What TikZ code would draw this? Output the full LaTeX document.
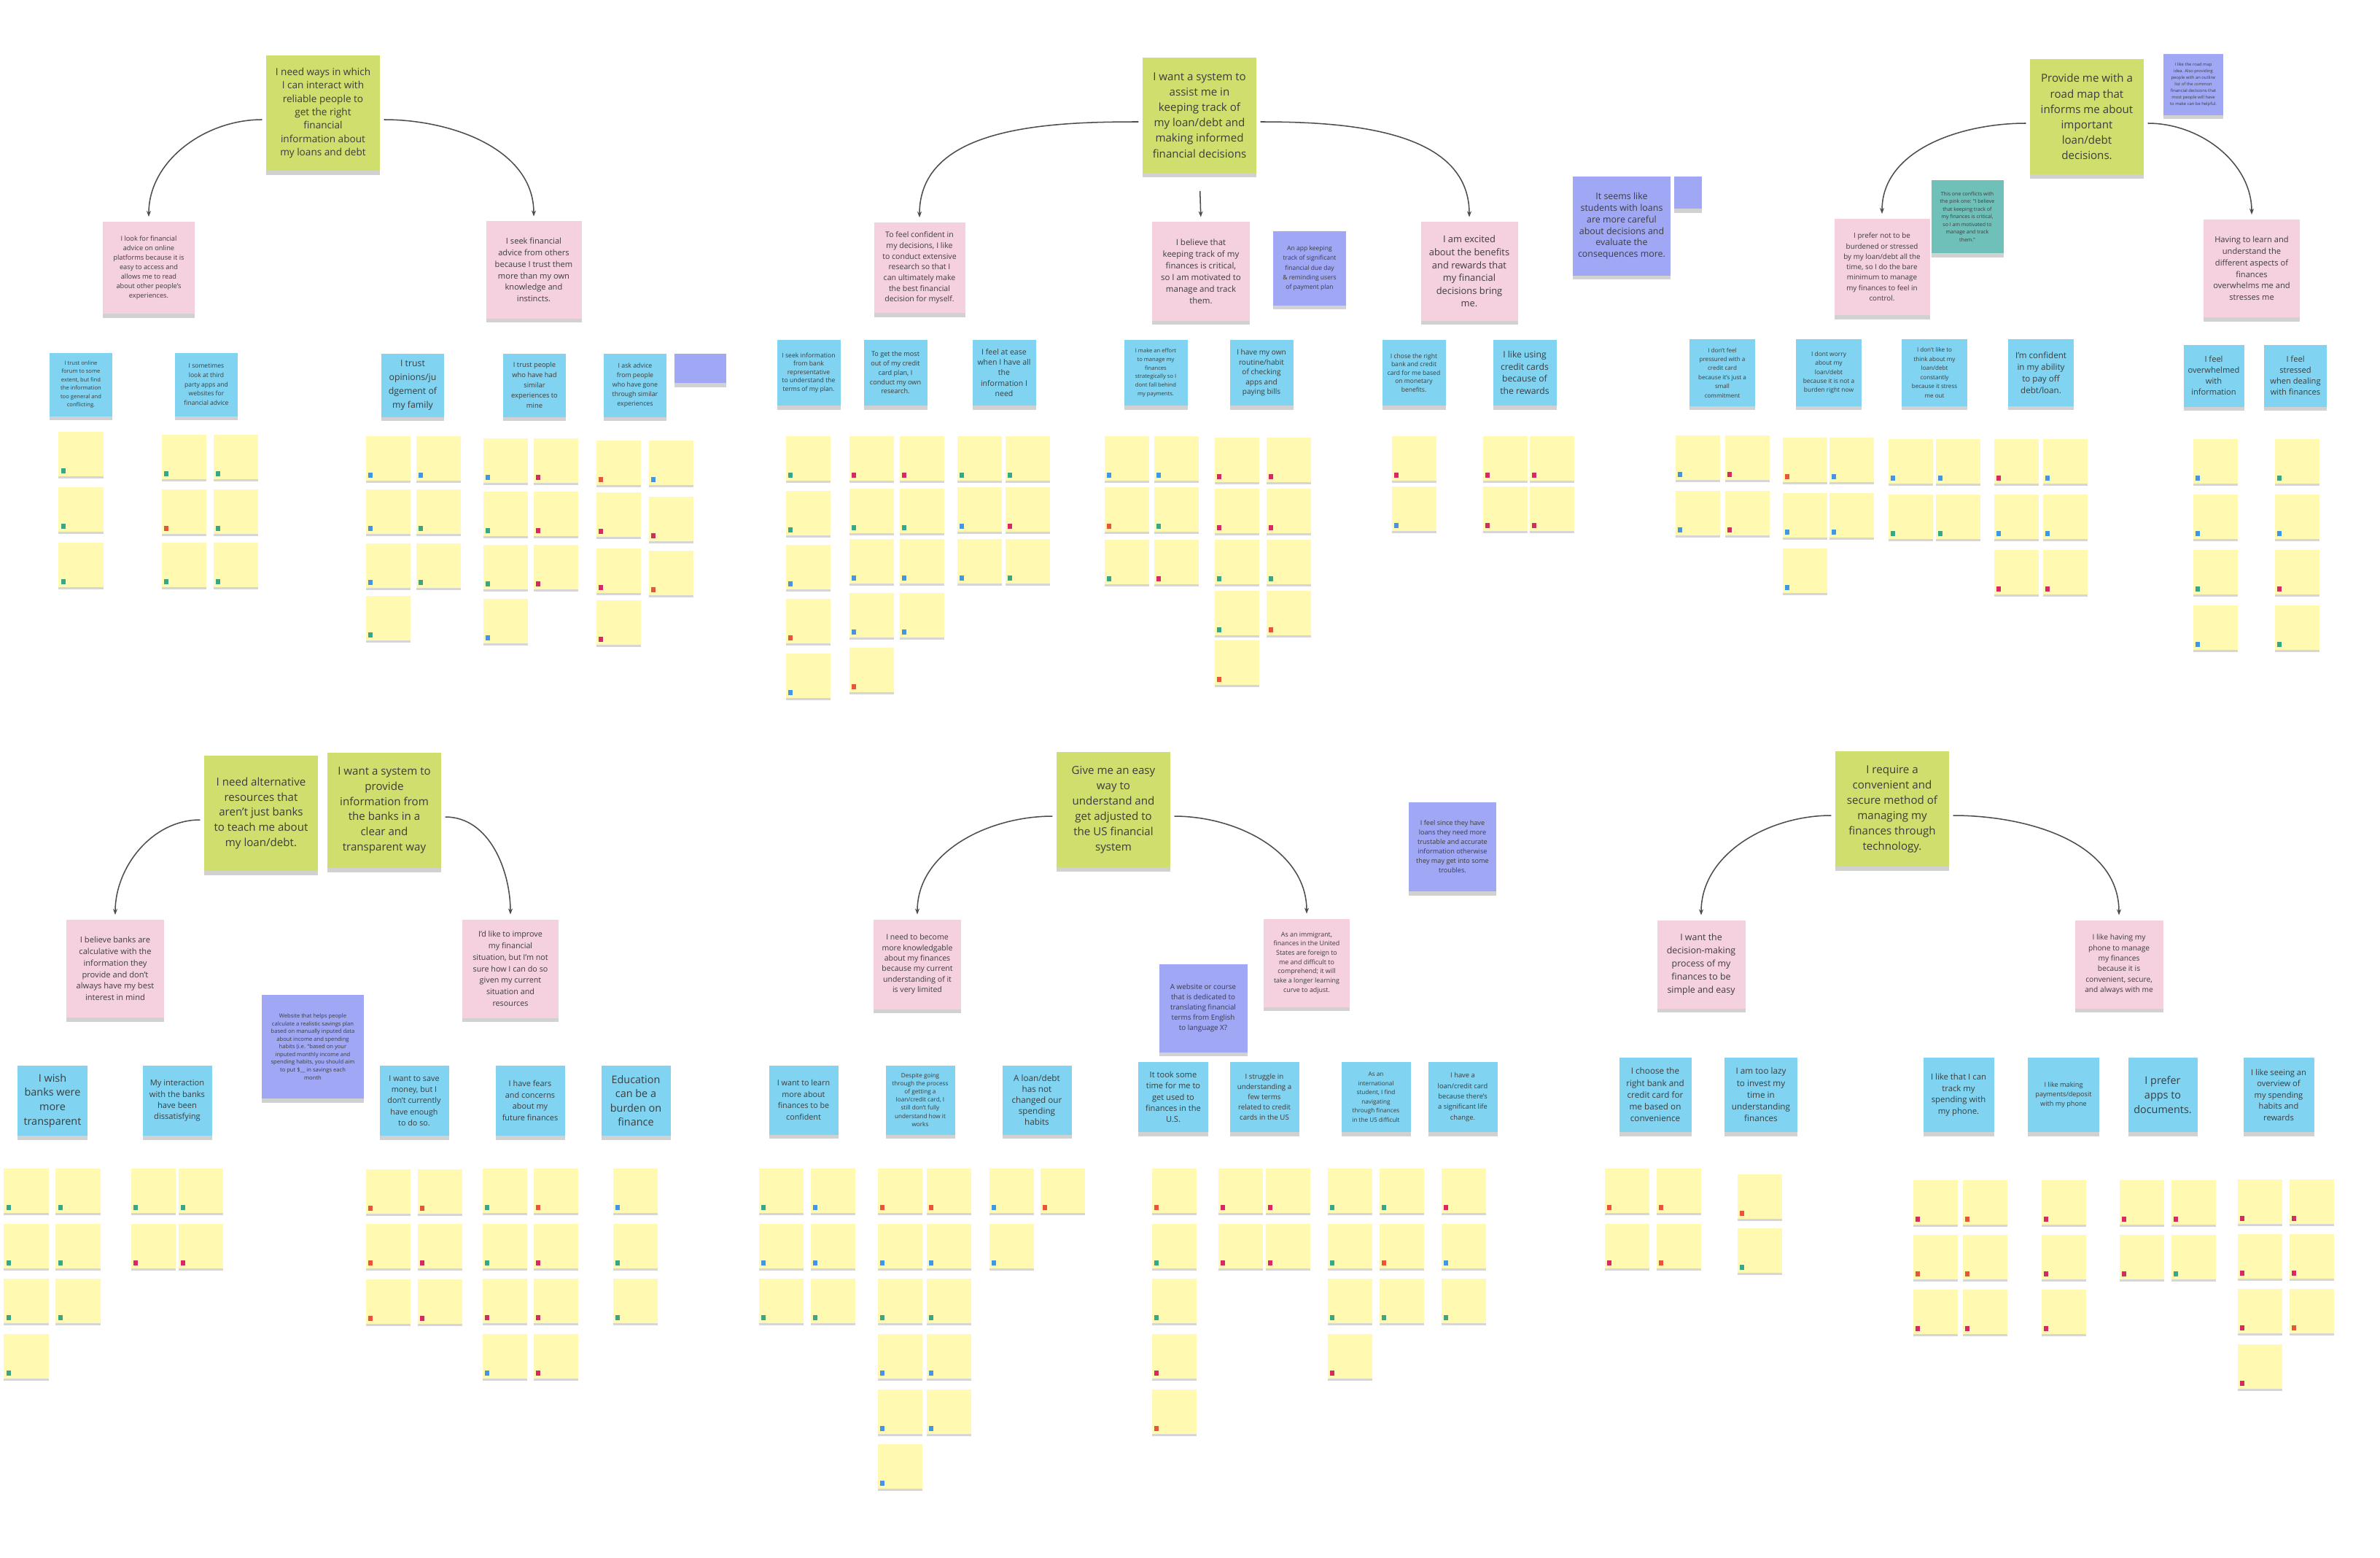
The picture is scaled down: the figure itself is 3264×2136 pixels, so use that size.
\documentclass[tikz,border=0pt]{standalone}
\usepackage{fontspec}
\setmainfont{Open Sans}
\usepackage{tikz}
\usetikzlibrary{arrows.meta,shadows}

\definecolor{needgreen}{RGB}{208,222,110}
\definecolor{insightpink}{RGB}{245,209,224}
\definecolor{quoteblue}{RGB}{128,212,242}
\definecolor{ideapurple}{RGB}{160,168,246}
\definecolor{remarkteal}{RGB}{112,192,186}
\definecolor{stickyyellow}{RGB}{255,249,178}
\definecolor{mg}{RGB}{58,166,136}
\definecolor{mr}{RGB}{232,86,58}
\definecolor{mb}{RGB}{66,150,228}
\definecolor{mm}{RGB}{214,42,102}
\definecolor{inkgray}{RGB}{60,60,60}

\begin{document}
\begin{tikzpicture}[
  x=0.03cm, y=-0.03cm,
  note/.style={inner sep=2pt, align=center, text=inkgray,
    drop shadow={fill=black, opacity=0.18, shadow xshift=0pt, shadow yshift=-5pt}},
  sz/.style 2 args={minimum width=#1cm, minimum height=#2cm},
  fs/.style 2 args={font=\fontsize{#1}{#2}\selectfont},
  theme/.style={note, fill=needgreen, sz={4.7}{4.72}},
  insight/.style={note, fill=insightpink},
  finding/.style={note, fill=quoteblue},
  idea/.style={note, fill=ideapurple},
  remark/.style={note, fill=remarkteal},
  sticky/.style={inner sep=0pt, fill=stickyyellow, minimum size=1.83cm,
    drop shadow={fill=black, opacity=0.16, shadow xshift=0pt, shadow yshift=-3pt}},
  arr/.style={-{Stealth[length=2.4mm, width=1.8mm]}, line width=1.3pt, draw=black!70,
    shorten <=0.15cm, shorten >=0.2cm}
]
\path[use as bounding box, fill=white] (0,0) rectangle (3264,2136);

% themes
\node[theme, fs={11.6}{15.7}] (gWays) at (443,155) {I need ways in which\\I can interact with\\reliable people to\\get the right\\financial\\information about\\my loans and debt};
\node[theme, fs={12.9}{18}] (gTrack) at (1645,158) {I want a system to\\assist me in\\keeping track of\\my loan/debt and\\making informed\\financial decisions};
\node[theme, fs={12.9}{18}] (gRoadmap) at (2862,160) {Provide me with a\\road map that\\informs me about\\important\\loan/debt\\decisions.};
\node[theme, fs={12.9}{17.6}] (gAltRes) at (358,1115) {I need alternative\\resources that\\aren't just banks\\to teach me about\\my loan/debt.};
\node[theme, fs={12.9}{17.7}] (gBankInfo) at (527,1111) {I want a system to\\provide\\information from\\the banks in a\\clear and\\transparent way};
\node[theme, fs={12.9}{18}] (gUSsys) at (1527,1110) {Give me an easy\\way to\\understand and\\get adjusted to\\the US financial\\system};
\node[theme, fs={12.9}{18}] (gTech) at (2595,1109) {I require a\\convenient and\\secure method of\\managing my\\finances through\\technology.};

% insights
\node[insight, sz={3.75}{3.78}, fs={7.9}{11}] (pOnline) at (204,367) {I look for financial\\advice on online\\platforms because it is\\easy to access and\\allows me to read\\about other people's\\experiences.};
\node[insight, sz={3.93}{3.99}, fs={9.5}{13.5}] (pOthers) at (732,370) {I seek financial\\advice from others\\because I trust them\\more than my own\\knowledge and\\instincts.};
\node[insight, sz={3.75}{3.72}, fs={9}{12.5}] (pResearch) at (1261,367) {To feel confident in\\my decisions, I like\\to conduct extensive\\research so that I\\can ultimately make\\the best financial\\decision for myself.};
\node[insight, sz={4.02}{4.05}, fs={9.8}{13.6}] (pTracking) at (1647,372) {I believe that\\keeping track of my\\finances is critical,\\so I am motivated to\\manage and track\\them.};
\node[insight, sz={3.99}{4.05}, fs={11}{15}] (pRewards) at (2015,372) {I am excited\\about the benefits\\and rewards that\\my financial\\decisions bring\\me.};
\node[insight, sz={3.93}{3.96}, fs={8.4}{12.2}] (pMinimum) at (2581,366) {I prefer not to be\\burdened or stressed\\by my loan/debt all the\\time, so I do the bare\\minimum to manage\\my finances to feel in\\control.};
\node[insight, sz={3.96}{4.02}, fs={9.5}{13.5}] (pOverwhelm) at (3088,368) {Having to learn and\\understand the\\different aspects of\\finances\\overwhelms me and\\stresses me};
\node[insight, sz={4.02}{4.02}, fs={9.5}{13.4}] (pBanks) at (158,1328) {I believe banks are\\calculative with the\\information they\\provide and don't\\always have my best\\interest in mind};
\node[insight, sz={3.96}{4.05}, fs={9.2}{13.5}] (pImprove) at (700,1328) {I'd like to improve\\my financial\\situation, but I'm not\\sure how I can do so\\given my current\\situation and\\resources};
\node[insight, sz={3.6}{3.69}, fs={9}{12.3}] (pKnowledge) at (1258,1322) {I need to become\\more knowledgable\\about my finances\\because my current\\understanding of it\\is very limited};
\node[insight, sz={3.54}{3.63}, fs={7.6}{10.8}] (pImmigrant) at (1792,1320) {As an immigrant,\\finances in the United\\States are foreign to\\me and difficult to\\comprehend; it will\\take a longer learning\\curve to adjust.};
\node[insight, sz={3.63}{3.63}, fs={10.6}{15.4}] (pSimple) at (2333,1322) {I want the\\decision-making\\process of my\\finances to be\\simple and easy};
\node[insight, sz={3.63}{3.63}, fs={8.7}{12.2}] (pPhone) at (2906,1322) {I like having my\\phone to manage\\my finances\\because it is\\convenient, secure,\\and always with me};

% ideas and remarks
\node[idea, sz={2.13}{1.2}] (iTiny) at (960,505) {};
\node[idea, sz={3}{3.03}, fs={7.3}{11.4}] (iAppDue) at (1796,368) {An app keeping\\track of significant\\financial due day\\\& reminding users\\of payment plan};
\node[idea, sz={4}{4.05}, fs={10.6}{13.4}] (iStudents) at (2224,310) {It seems like\\students with loans\\are more careful\\about decisions and\\evaluate the\\consequences more.};
\node[idea, sz={1.14}{1.32}] (iSquare) at (2315,264) {};
\node[idea, sz={2.46}{2.49}, fs={5}{7.6}] (iRoadmap) at (3008,116) {I like the road map\\idea. Also providing\\people with an outline\\list of the common\\financial decisions that\\most people will have\\to make can be helpful.};
\node[remark, sz={2.97}{3}, fs={6}{9}] (cConflict) at (2698,297) {This one conflicts with\\the pink one: ``I believe\\that keeping track of\\my finances is critical,\\so I am motivated to\\manage and track\\them.''};
\node[idea, sz={4.2}{4.26}, fs={6.5}{9}] (iSavings) at (429,1435) {Website that helps people\\calculate a realistic savings plan\\based on manually inputed data\\about income and spending\\habits (i.e. ``based on your\\inputed monthly income and\\spending habits, you should aim\\to put \$\_\_ in savings each\\month};
\node[idea, sz={3.6}{3.66}, fs={7.8}{11.1}] (iTrouble) at (1992,1161) {I feel since they have\\loans they need more\\trustable and accurate\\information otherwise\\they may get into some\\troubles.};
\node[idea, sz={3.63}{3.63}, fs={8.4}{12.1}] (iTranslate) at (1650,1382) {A website or course\\that is dedicated to\\translating financial\\terms from English\\to language X?};

% findings, top row
\node[finding, sz={2.58}{2.61}, fs={6.5}{9.7}] (bForum) at (111,527) {I trust online\\forum to some\\extent, but find\\the information\\too general and\\conflicting.};
\node[finding, sz={2.58}{2.61}, fs={7.3}{10.8}] (bThirdParty) at (283,527) {I sometimes\\look at third\\party apps and\\websites for\\financial advice};
\node[finding, sz={2.58}{2.61}, fs={10.5}{16}] (bFamily) at (566,528) {I trust\\opinions/ju\\dgement of\\my family};
\node[finding, sz={2.58}{2.61}, fs={8}{12}] (bSimilar) at (733,528) {I trust people\\who have had\\similar\\experiences to\\mine};
\node[finding, sz={2.58}{2.61}, fs={7.5}{11.2}] (bAsk) at (871,528) {I ask advice\\from people\\who have gone\\through similar\\experiences};
\node[finding, sz={2.61}{2.7}, fs={7.4}{9.8}] (bBankRep) at (1109,511) {I seek information\\from bank\\representative\\to understand the\\terms of my plan.};
\node[finding, sz={2.61}{2.7}, fs={7.8}{10.9}] (bOwnResearch) at (1228,511) {To get the most\\out of my credit\\card plan, I\\conduct my own\\research.};
\node[finding, sz={2.61}{2.7}, fs={9}{12.2}] (bAtEase) at (1377,511) {I feel at ease\\when I have all\\the\\information I\\need};
\node[finding, sz={2.61}{2.7}, fs={6.5}{10}] (bEffort) at (1585,511) {I make an effort\\to manage my\\finances\\strategically so I\\dont fall behind\\my payments.};
\node[finding, sz={2.61}{2.7}, fs={8.6}{11.5}] (bRoutine) at (1730,511) {I have my own\\routine/habit\\of checking\\apps and\\paying bills};
\node[finding, sz={2.61}{2.7}, fs={7.3}{9.8}] (bMonetary) at (1939,511) {I chose the right\\bank and credit\\card for me based\\on monetary\\benefits.};
\node[finding, sz={2.61}{2.7}, fs={10.4}{14.3}] (bRewards) at (2091,511) {I like using\\credit cards\\because of\\the rewards};
\node[finding, sz={2.7}{2.73}, fs={6.9}{10.6}] (bPressured) at (2362,511) {I don't feel\\pressured with a\\credit card\\because it's just a\\small\\commitment};
\node[finding, sz={2.7}{2.73}, fs={7.2}{10.5}] (bNoWorry) at (2508,511) {I dont worry\\about my\\loan/debt\\because it is not a\\burden right now};
\node[finding, sz={2.7}{2.73}, fs={6.9}{10.6}] (bNoThink) at (2653,511) {I don't like to\\think about my\\loan/debt\\constantly\\because it stress\\me out};
\node[finding, sz={2.7}{2.73}, fs={9.9}{13.5}] (bConfident) at (2799,511) {I'm confident\\in my ability\\to pay off\\debt/loan.};
\node[finding, sz={2.49}{2.55}, fs={9.5}{12.7}] (bOverwhelmed) at (3036,515) {I feel\\overwhelmed\\with\\information};
\node[finding, sz={2.58}{2.55}, fs={9.5}{12.7}] (bStressed) at (3148,515) {I feel\\stressed\\when dealing\\with finances};

% findings, bottom row
\node[finding, sz={2.85}{2.88}, fs={12.3}{16.7}] (bTransparent) at (72,1509) {I wish\\banks were\\more\\transparent};
\node[finding, sz={2.85}{2.88}, fs={9.5}{13.2}] (bDissatisfied) at (243,1509) {My interaction\\with the banks\\have been\\dissatisfying};
\node[finding, sz={2.85}{2.88}, fs={9.2}{13.1}] (bSave) at (568,1509) {I want to save\\money, but I\\don't currently\\have enough\\to do so.};
\node[finding, sz={2.85}{2.88}, fs={9.3}{13.2}] (bFears) at (727,1509) {I have fears\\and concerns\\about my\\future finances};
\node[finding, sz={2.85}{2.88}, fs={12.3}{16.5}] (bEducation) at (872,1509) {Education\\can be a\\burden on\\finance};
\node[finding, sz={2.85}{2.85}, fs={9.2}{13.2}] (bLearnMore) at (1102,1508) {I want to learn\\more about\\finances to be\\confident};
\node[finding, sz={2.85}{2.85}, fs={7}{9.4}] (bDespite) at (1262,1508) {Despite going\\through the process\\of getting a\\loan/credit card, I\\still don't fully\\understand how it\\works};
\node[finding, sz={2.85}{2.85}, fs={10}{12.9}] (bHabits) at (1422,1508) {A loan/debt\\has not\\changed our\\spending\\habits};
\node[finding, sz={2.88}{2.88}, fs={9.5}{13.1}] (bTookTime) at (1609,1504) {It took some\\time for me to\\get used to\\finances in the\\U.S.};
\node[finding, sz={2.85}{2.88}, fs={8.3}{12}] (bTerms) at (1734,1504) {I struggle in\\understanding a\\few terms\\related to credit\\cards in the US};
\node[finding, sz={2.85}{2.88}, fs={7}{10.7}] (bIntl) at (1887,1504) {As an\\international\\student, I find\\navigating\\through finances\\in the US difficult};
\node[finding, sz={2.85}{2.88}, fs={8}{12.2}] (bLifeChange) at (2006,1504) {I have a\\loan/credit card\\because there's\\a significant life\\change.};
\node[finding, sz={2.97}{3.06}, fs={10}{13.9}] (bConvenience) at (2270,1501) {I choose the\\right bank and\\credit card for\\me based on\\convenience};
\node[finding, sz={3}{3.06}, fs={10}{13.9}] (bLazy) at (2415,1501) {I am too lazy\\to invest my\\time in\\understanding\\finances};
\node[finding, sz={2.91}{3.06}, fs={9.7}{13.2}] (bTrackPhone) at (2686,1501) {I like that I can\\track my\\spending with\\my phone.};
\node[finding, sz={2.94}{3.06}, fs={7.8}{11.4}] (bPayPhone) at (2830,1501) {I like making\\payments/deposit\\with my phone};
\node[finding, sz={2.85}{3.06}, fs={12.3}{16.8}] (bApps) at (2966,1501) {I prefer\\apps to\\documents.};
\node[finding, sz={2.91}{3.06}, fs={9.5}{13.2}] (bOverview) at (3125,1501) {I like seeing an\\overview of\\my spending\\habits and\\rewards};

% interview stickies
\foreach \x/\y/\c in {111/622/mg, 111/698/mg, 111/774/mg,
  252/626/mg, 252/701/mr, 252/774/mg, 323/626/mg, 323/701/mg, 323/774/mg,
  532/628/mb, 532/701/mb, 532/775/mb, 532/847/mg, 601/628/mb, 601/701/mg, 601/775/mg,
  693/631/mb, 693/704/mg, 693/777/mg, 693/851/mb, 762/631/mm, 762/704/mm, 762/777/mm,
  848/634/mr, 848/705/mm, 848/782/mm, 848/853/mm, 920/634/mb, 920/711/mm, 920/785/mr,
  1108/628/mg, 1108/703/mg, 1108/777/mb, 1108/851/mr, 1108/926/mb,
  1195/628/mm, 1195/700/mg, 1195/769/mb, 1195/843/mb, 1195/918/mr,
  1264/628/mm, 1264/700/mg, 1264/769/mb, 1264/843/mb,
  1343/628/mg, 1343/698/mb, 1343/769/mb, 1409/628/mg, 1409/698/mm, 1409/769/mg,
  1545/628/mb, 1545/698/mr, 1545/770/mg, 1613/628/mb, 1613/698/mg, 1613/770/mm,
  1696/630/mm, 1696/700/mm, 1696/770/mg, 1696/840/mg, 1696/908/mr,
  1767/630/mm, 1767/700/mm, 1767/770/mg, 1767/840/mr,
  1939/628/mm, 1939/697/mb, 2064/628/mm, 2064/697/mm, 2128/628/mm, 2128/697/mm,
  2328/627/mb, 2328/703/mb, 2396/627/mm, 2396/703/mm,
  2475/630/mr, 2475/706/mb, 2475/782/mb, 2539/630/mb, 2539/706/mb,
  2620/632/mb, 2620/708/mg, 2685/632/mb, 2685/708/mg,
  2765/632/mm, 2765/708/mb, 2765/784/mm, 2832/632/mb, 2832/708/mb, 2832/784/mm,
  3038/632/mb, 3038/708/mb, 3038/784/mg, 3038/860/mb,
  3150/632/mg, 3150/708/mb, 3150/784/mm, 3150/860/mg,
  36/1632/mg, 36/1708/mg, 36/1783/mg, 36/1859/mg, 107/1632/mg, 107/1708/mg, 107/1783/mg,
  210/1632/mg, 210/1708/mm, 275/1632/mg, 275/1708/mm,
  532/1633/mr, 532/1708/mr, 532/1784/mr, 603/1633/mr, 603/1708/mm, 603/1784/mm,
  692/1632/mg, 692/1708/mg, 692/1783/mm, 692/1859/mb,
  762/1632/mr, 762/1708/mm, 762/1783/mm, 762/1859/mm,
  871/1632/mb, 871/1708/mg, 871/1783/mg,
  1071/1632/mg, 1071/1708/mb, 1071/1783/mg, 1142/1632/mb, 1142/1708/mb, 1142/1783/mg,
  1234/1632/mr, 1234/1708/mb, 1234/1783/mg, 1234/1859/mb, 1234/1935/mb, 1234/2010/mb,
  1301/1632/mr, 1301/1708/mb, 1301/1783/mg, 1301/1859/mb, 1301/1935/mb,
  1387/1632/mb, 1387/1708/mb, 1457/1632/mr,
  1610/1632/mr, 1610/1708/mg, 1610/1783/mg, 1610/1859/mm, 1610/1935/mr,
  1701/1632/mm, 1701/1708/mm, 1766/1632/mm, 1766/1708/mm,
  1851/1632/mg, 1851/1708/mg, 1851/1783/mg, 1851/1859/mm,
  1922/1632/mg, 1922/1708/mr, 1922/1783/mg, 2007/1632/mm, 2007/1708/mb, 2007/1783/mg,
  2231/1632/mr, 2231/1708/mm, 2302/1632/mr, 2302/1708/mr, 2413/1640/mr, 2413/1714/mg,
  2654/1648/mm, 2654/1723/mr, 2654/1798/mm, 2722/1648/mr, 2722/1723/mr, 2722/1798/mm,
  2830/1648/mm, 2830/1723/mm, 2830/1798/mm,
  2937/1648/mm, 2937/1723/mm, 3008/1648/mm, 3008/1723/mg,
  3099/1647/mm, 3099/1722/mm, 3099/1797/mm, 3099/1873/mm,
  3170/1647/mm, 3170/1722/mm, 3170/1797/mr}{
  \node[sticky] (s-\x-\y) at (\x,\y) {};
  \fill[\c] ([shift={(4,-4)}]s-\x-\y.south west) rectangle ++(6,-7);
}

% links
\draw[arr] ([yshift=-0.27cm]gWays.west) to[out=180, in=90] (pOnline.north);
\draw[arr] ([yshift=-0.27cm]gWays.east) to[out=0, in=90] (pOthers.north);
\draw[arr] ([yshift=-0.27cm]gTrack.west) to[out=180, in=90] (pResearch.north);
\draw[arr, shorten <=0.75cm] (gTrack.south) -- (pTracking.north);
\draw[arr] ([yshift=-0.27cm]gTrack.east) to[out=0, in=90] (pRewards.north);
\draw[arr] ([yshift=-0.27cm]gRoadmap.west) to[out=180, in=90] (pMinimum.north);
\draw[arr] ([yshift=-0.27cm]gRoadmap.east) to[out=0, in=90] (pOverwhelm.north);
\draw[arr] ([yshift=-0.27cm]gAltRes.west) to[out=180, in=90] (pBanks.north);
\draw[arr] ([yshift=-0.27cm]gBankInfo.east) to[out=0, in=90] (pImprove.north);
\draw[arr] ([yshift=-0.27cm]gUSsys.west) to[out=180, in=90] (pKnowledge.north);
\draw[arr] ([yshift=-0.27cm]gUSsys.east) to[out=0, in=90] (pImmigrant.north);
\draw[arr] ([yshift=-0.27cm]gTech.west) to[out=180, in=90] (pSimple.north);
\draw[arr] ([yshift=-0.27cm]gTech.east) to[out=0, in=90] (pPhone.north);
\end{tikzpicture}
\end{document}
